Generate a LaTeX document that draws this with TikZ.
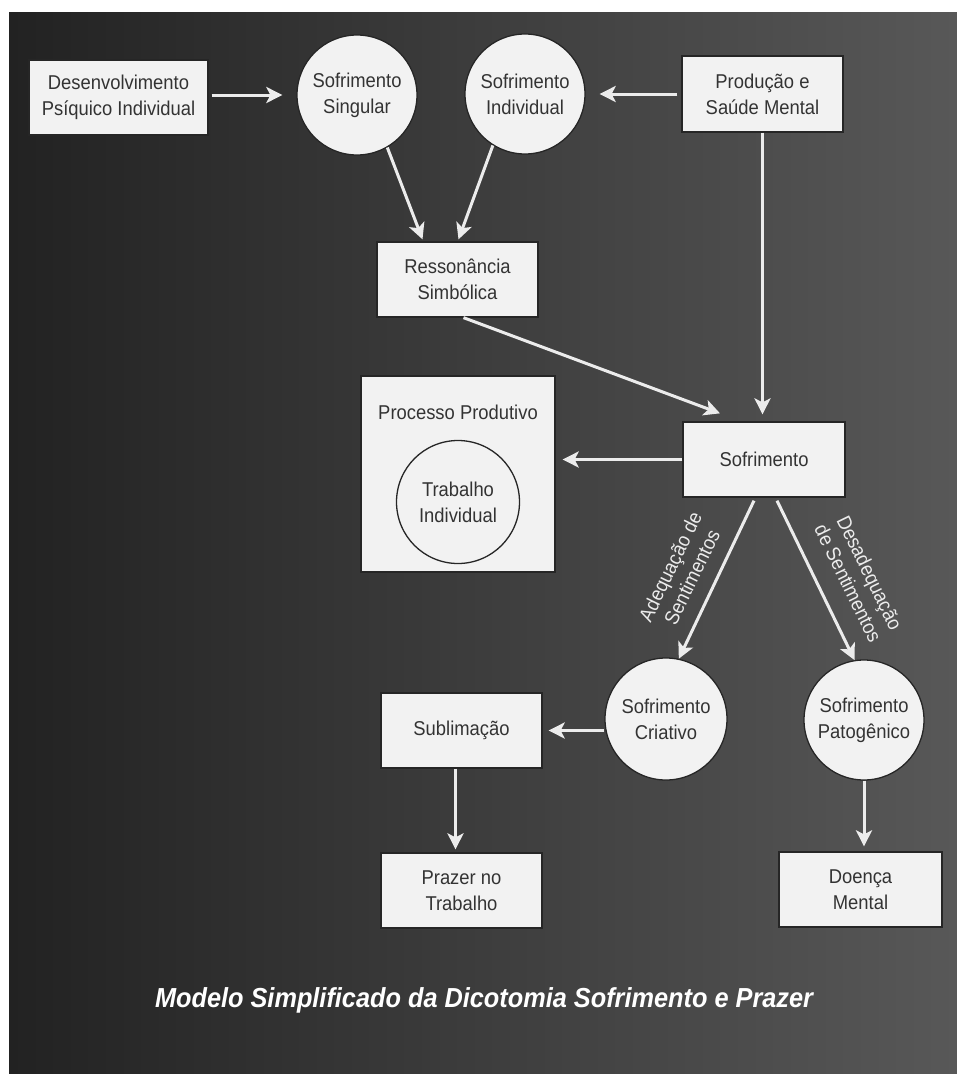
\documentclass[tikz,border=0pt]{standalone}
\usepackage{fontspec}
\setmainfont{Liberation Sans}[FakeStretch=0.92]
\usetikzlibrary{arrows.meta}
\definecolor{bgL}{RGB}{34,34,34}
\definecolor{bgR}{RGB}{88,88,88}
\definecolor{boxfill}{RGB}{242,242,242}
\definecolor{arrcol}{RGB}{236,236,236}
\tikzset{
  box/.style={draw=black!85, line width=1.3pt, fill=boxfill, inner sep=0pt,
    align=center, font=\fontsize{20pt}{26pt}\selectfont, text=black!80},
  circ/.style={circle, draw=black!85, line width=1.3pt, fill=boxfill, inner sep=0pt,
    align=center, font=\fontsize{20pt}{26pt}\selectfont, text=black!80},
  arr/.style={draw=arrcol, line width=3pt,
    -{Stealth[length=16pt,width=16pt,inset=4pt]}},
  lbl/.style={text=arrcol, align=center, font=\fontsize{20pt}{24pt}\selectfont}
}
\begin{document}
\begin{tikzpicture}[x=1pt,y=-1pt]
\useasboundingbox (0,0) rectangle (957,1074);
\fill[white] (0,0) rectangle (957,1074);
\shade[left color=bgL, right color=bgR] (9,12) rectangle (957,1074);

% nodes
\node[box, minimum width=179pt, minimum height=75pt] (des) at (118.5,97.5) {Desenvolvimento\\Psíquico Individual};
\node[circ, minimum size=120pt] (ss) at (357,95) {Sofrimento\\Singular};
\node[circ, minimum size=120pt] (si) at (525,94) {Sofrimento\\Individual};
\node[box, minimum width=161pt, minimum height=76pt] (prod) at (762.5,94) {Produção e\\Saúde Mental};
\node[box, minimum width=161pt, minimum height=75pt] (res) at (457.5,279.5) {Ressonância\\Simbólica};
\node[box, minimum width=194pt, minimum height=196pt] (proc) at (458,474) {};
\node[font=\fontsize{20pt}{26pt}\selectfont, text=black!80] (proct) at (458,412) {Processo Produtivo};
\node[circ, minimum size=123pt] (trab) at (458,502) {Trabalho\\Individual};
\node[box, minimum width=162pt, minimum height=75pt] (sof) at (764,459.5) {Sofrimento};
\node[circ, minimum size=122pt] (cri) at (666,719) {Sofrimento\\Criativo};
\node[circ, minimum size=120pt] (pat) at (864,720) {Sofrimento\\Patogênico};
\node[box, minimum width=161pt, minimum height=75pt] (sub) at (461.5,730.5) {Sublimação};
\node[box, minimum width=161pt, minimum height=75pt] (praz) at (461.5,890.5) {Prazer no\\Trabalho};
\node[box, minimum width=163pt, minimum height=75pt] (doe) at (860.5,889.5) {Doença\\Mental};

% connectors
\draw[arr, shorten <=3pt, shorten >=14pt] (des.east |- ss.west) -- (ss.west);
\draw[arr, shorten <=4pt, shorten >=14pt] (prod.west |- si.east) -- (si.east);
\draw[arr] (ss.-60) -- ([xshift=-35pt,yshift=2pt]res.north);
\draw[arr] (si.-122) -- ([xshift=1pt,yshift=2pt]res.north);
\draw[arr] ([xshift=6pt]res.south) -- ([xshift=-44pt,yshift=8pt]sof.north);
\draw[arr, shorten >=7pt] (prod.south) -- (prod.south |- sof.north);
\draw[arr, shorten >=7pt] (sof.west) -- (proc.east |- sof.west);
\draw[arr] ([xshift=-10pt,yshift=-3pt]sof.south) -- (cri.78);
\draw[arr] ([xshift=13pt,yshift=-3pt]sof.south) -- (pat.99);
\draw[arr, shorten >=6pt] (cri.west |- sub.east) -- (sub.east);
\draw[arr, shorten >=3pt] ([xshift=-6pt]sub.south) -- ([xshift=-6pt]praz.north);
\draw[arr, shorten >=5pt] (pat.south) -- (pat.south |- doe.north);

% labels
\node[lbl, rotate=64] (lada) at (681,572) {Adequação de\\Sentimentos};
\node[lbl, rotate=-64] (ldes) at (859,578) {Desadequação\\de Sentimentos};

% title
\node[text=white, font=\fontsize{27.5pt}{32pt}\selectfont\bfseries\itshape] (title) at (484,1000) {Modelo Simplificado da Dicotomia Sofrimento e Prazer};
\end{tikzpicture}
\end{document}
